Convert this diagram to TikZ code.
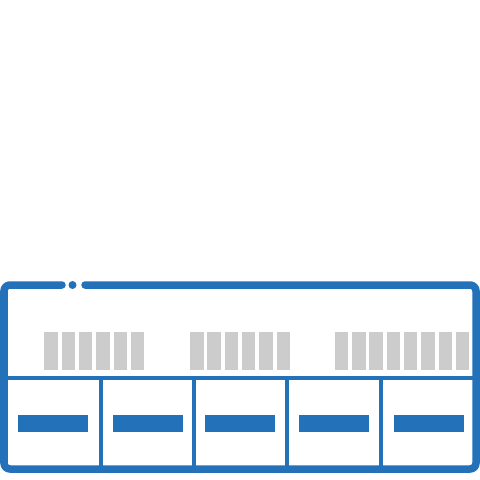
\documentclass[tikz,border=0pt]{standalone}
\usepackage{tikz}
\definecolor{panelblue}{RGB}{34,113,185}
\definecolor{ledgray}{RGB}{204,204,204}

\begin{document}
\begin{tikzpicture}[x=1pt,y=-1pt,
frame/.style={draw=panelblue,line width=7.5pt,line cap=round,rounded corners=6pt},
divider/.style={draw=panelblue,line width=4pt},
slot/.style={fill=panelblue},
led/.style={fill=ledgray}]
\useasboundingbox (0,0) rectangle (480,480);
% outer frame with gap and dot
\draw[frame] (85,285)--(476,285)--(476,469)--(4,469)--(4,285)--(62,285);
\fill[panelblue] (72.5,285) circle (4);
% shelf line and dividers
\draw[divider] (4,378)--(476,378);
\foreach \x in {101,194,287,381}{
\draw[divider] (\x,378)--(\x,469);
}
% slots
\foreach \x in {18,113,205,299,394}{
\fill[slot] (\x,415) rectangle (\x+70,432);
}
% gray blocks
\foreach \i in {0,...,5}{
\fill[led] (44.3+17.3*\i,332) rectangle (57.8+17.3*\i,370);
\fill[led] (190+17.3*\i,332) rectangle (203.5+17.3*\i,370);
}
\foreach \i in {0,...,7}{
\fill[led] (334.7+17.3*\i,332) rectangle (348.2+17.3*\i,370);
}
\end{tikzpicture}
\end{document}
